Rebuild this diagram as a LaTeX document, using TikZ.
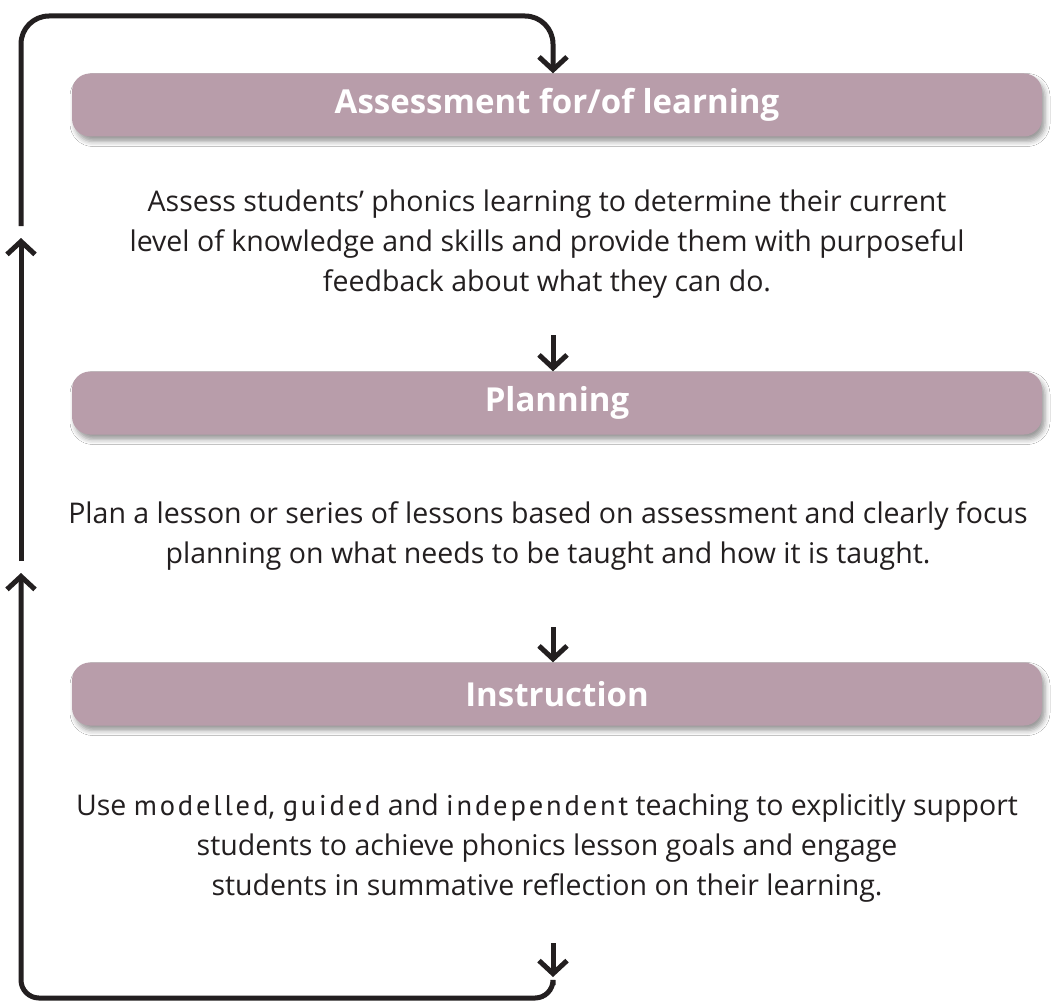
\documentclass[tikz,border=0pt]{standalone}
\usepackage{fontspec}
\setmainfont{Open Sans}
\newfontfamily\emfont[LetterSpace=10]{PT Sans}
\usetikzlibrary{arrows.meta,shadows.blur}
\definecolor{boxfill}{HTML}{B89DAA}
\definecolor{ink}{HTML}{231F20}
\begin{document}
\begin{tikzpicture}[x=1pt,y=-1pt,
  stagebox/.style={fill=boxfill, rounded corners=18pt, minimum width=970pt,
    minimum height=63pt, inner sep=0pt, text=white,
    font=\fontsize{33}{40}\selectfont\bfseries,
    blur shadow={shadow xshift=3pt,shadow yshift=-5pt,shadow blur radius=5pt,shadow opacity=40}},
  para/.style={align=center, text=ink, inner sep=0pt, font=\fontsize{28.5}{40}\selectfont},
  flowline/.style={draw=ink, line width=5pt},
  tipline/.style={flowline, -{Straight Barb[sharp,length=13pt,width=28pt]}}
]
\useasboundingbox (0,0) rectangle (1051,1003);
\fill[white] (0,0) rectangle (1051,1003);

\node[stagebox] (b1) at (557,105) {Assessment for/of learning};
\node[stagebox] (b2) at (557,403) {Planning};
\node[stagebox] (b3) at (557,694) {Instruction};

\node[para] (p1) at (547,244) {Assess students’ phonics learning to determine their current\\
level of knowledge and skills and provide them with purposeful\\
feedback about what they can do.};
\node[para] (p2) at (548,536) {Plan a lesson or series of lessons based on assessment and clearly focus\\
planning on what needs to be taught and how it is taught.};
\node[para] (p3) at (547,848) {Use {\emfont modelled}, {\emfont guided} and {\emfont independent} teaching to explicitly support\\
students to achieve phonics lesson goals and engage\\
students in summative reflection on their learning.};

% down arrows
\coordinate (a1) at (553,335);
\draw[tipline] (a1) -- (a1 |- b2.north);
\coordinate (a2) at (553,627);
\draw[tipline] (a2) -- (a2 |- b3.north);
\coordinate (a3) at (553,943);
\coordinate (a3e) at (553,977);
\draw[tipline] (a3) -- (a3e);

% feedback loop
\coordinate (l1) at (21,226);
\coordinate (tr) at (553,16);
\draw[tipline, rounded corners=28pt] (l1) |- (tr) -- (tr |- b1.north);
\coordinate (m1) at (21,561);
\coordinate (m2) at (21,238);
\draw[tipline] (m1) -- (m2);
\coordinate (h1) at (553,985);
\coordinate (bl) at (21,998);
\coordinate (m3) at (21,573);
\draw[tipline, rounded corners=18pt] (h1) |- (bl) -- (m3);
\end{tikzpicture}
\end{document}
